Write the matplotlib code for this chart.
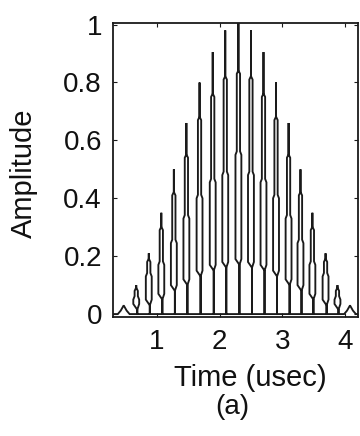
import matplotlib
matplotlib.use("Agg")
import matplotlib.pyplot as plt
import numpy as np

plt.rcParams['font.family'] = ['Liberation Sans', 'DejaVu Sans']

# Data (one "tower" per pulse)
t_peak = [0.47, 0.67, 0.87, 1.07, 1.27, 1.47, 1.68, 1.89, 2.09, 2.30,
          2.50, 2.70, 2.90, 3.10, 3.29, 3.48, 3.69, 3.88, 4.08]
spike = [0.03, 0.10, 0.21, 0.35, 0.50, 0.66, 0.80, 0.905, 0.98, 1.02,
         0.98, 0.905, 0.80, 0.66, 0.50, 0.35, 0.21, 0.10, 0.03]
shoulder = [0.02, 0.08, 0.18, 0.29, 0.41, 0.54, 0.67, 0.75, 0.81, 0.83,
            0.81, 0.75, 0.67, 0.54, 0.41, 0.29, 0.18, 0.08, 0.02]
step = [0.012, 0.05, 0.13, 0.17, 0.245, 0.33, 0.40, 0.455, 0.48, 0.55,
        0.48, 0.455, 0.40, 0.33, 0.245, 0.17, 0.13, 0.05, 0.012]
neck = [0.004, 0.015, 0.03, 0.05, 0.08, 0.10, 0.13, 0.15, 0.16, 0.17,
        0.16, 0.15, 0.13, 0.10, 0.08, 0.05, 0.03, 0.015, 0.004]

x_ticks = [1, 2, 3, 4]
y_ticks = [0, 0.2, 0.4, 0.6, 0.8, 1]
y_ticklabels = ['0', '0.2', '0.4', '0.6', '0.8', '1']

W1 = 0.026   # half-width of narrow part
W2 = 0.047   # half-width of body

xs, ys = [0.30], [0.0]
for c, h, s1, s2, n in zip(t_peak, spike, shoulder, step, neck):
    stem = c + 0.35 * W2
    if h < 0.05:
        pts = [(c - 2 * W2, 0.0), (c - W2, s2), (c - W1, s1), (c, h),
               (c + W1, s1), (c + W2, s2), (c + 2 * W2, 0.0)]
    else:
        top_body = s2 + 0.012
        pts = [
            (stem, 0.0),
            (stem, n),
            (c - W2, n + 0.02),
            (c - W2, s2),
            (c - W1, top_body),
            (c - W1, s1),
            (c, s1 + 0.012),
            (c, h),
            (c, s1 + 0.012),
            (c + W1, s1),
            (c + W1, top_body),
            (c + W2, s2),
            (c + W2, n + 0.02),
            (stem, n),
            (stem, 0.0),
        ]
    for px, py in pts:
        xs.append(px)
        ys.append(py)
xs.append(4.2)
ys.append(0.0)

fig = plt.figure(figsize=(3.6, 4.36), dpi=100)
ax = fig.add_axes([0.314, 0.273, 0.680, 0.674])
ax.plot(xs, ys, color='#1a1a1a', lw=1.35, solid_joinstyle='miter')

ax.set_xlim(0.30, 4.205)
ax.set_ylim(-0.01, 1.005)
ax.set_xticks(x_ticks)
ax.set_xticklabels([str(v) for v in x_ticks])
ax.set_yticks(y_ticks)
ax.set_yticklabels(y_ticklabels)
ax.tick_params(direction='in', length=3, width=0.8, top=True, right=True,
               labelsize=20, pad=8, colors='#1a1a1a', labelcolor='#111111')
ax.tick_params(axis='x', pad=9)
for sp in ax.spines.values():
    sp.set_linewidth(1.3)
    sp.set_color('#1a1a1a')

ax.set_ylabel('Amplitude', fontsize=21, color='#111111')
ax.yaxis.set_label_coords(-0.305, 0.49)
fig.text(0.694, 0.133, 'Time (usec)', fontsize=21, ha='center', va='center', color='#111111')
fig.text(0.645, 0.066, '(a)', fontsize=20, ha='center', va='center', color='#111111')

fig.savefig('out.png', dpi=100)
